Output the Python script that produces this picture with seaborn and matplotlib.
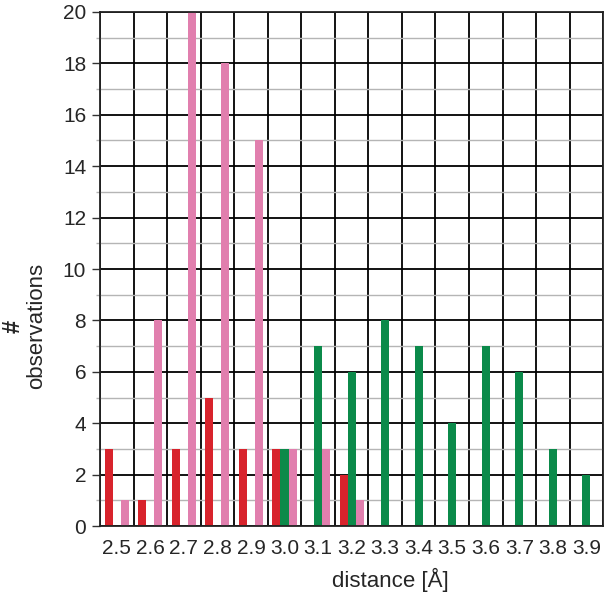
import pandas as pd
import seaborn as sns
import matplotlib.pyplot as plt
import numpy as np
from matplotlib.ticker import MultipleLocator, FixedLocator

categories = ['2.5', '2.6', '2.7', '2.8', '2.9', '3.0', '3.1', '3.2',
              '3.3', '3.4', '3.5', '3.6', '3.7', '3.8', '3.9']
red_counts = [3, 1, 3, 5, 3, 3, 0, 2, 0, 0, 0, 0, 0, 0, 0]
green_counts = [0, 0, 0, 0, 0, 3, 7, 6, 8, 7, 4, 7, 6, 3, 2]
pink_counts = [1, 8, 20, 18, 15, 3, 3, 1, 0, 0, 0, 0, 0, 0, 0]

series = ["red", "green", "pink"]
my_pal = {"red": "#d8232c", "green": "#0b8a4a", "pink": "#e17fae"}

df = pd.concat([
    pd.DataFrame({"distance": categories, "count": vals, "series": name})
    for name, vals in zip(series, [red_counts, green_counts, pink_counts])
])

sns.set_style("white")
plt.rcParams["font.family"] = ["Liberation Sans", "DejaVu Sans"]

f = plt.figure(figsize=(6.08, 5.96), dpi=100)
ax = f.add_axes([0.1645, 0.1174, 0.8275, 0.8625])

ax.set_axisbelow(True)
ax.yaxis.set_major_locator(MultipleLocator(2))
ax.yaxis.set_minor_locator(MultipleLocator(1))
ax.grid(which="major", axis="y", color="black", linewidth=1.3)
ax.grid(which="minor", axis="y", color="#b5b5b5", linewidth=1.0)

sns.barplot(df, x="distance", y="count", hue="series", hue_order=series,
            palette=my_pal, width=0.72, gap=0, saturation=1, legend=False,
            linewidth=0, ax=ax)

ax.set_ylim(0, 20)
ax.set_xlim(-0.5, len(categories) - 0.5)

ax.xaxis.set_minor_locator(FixedLocator(np.arange(-0.5, len(categories), 1)))
ax.grid(which="minor", axis="x", color="black", linewidth=1.3)

ax.tick_params(axis="x", which="major", length=0, labelsize=15, pad=9)
ax.tick_params(axis="x", which="minor", length=9, width=1.3, color="black")
ax.tick_params(axis="y", which="major", left=True, length=6, width=1, color="#333333", labelsize=15, pad=4)
ax.tick_params(axis="y", which="minor", left=True, length=3, width=1, color="#b5b5b5")

for s in ax.spines.values():
    s.set_color("#222222")
    s.set_linewidth(1.3)

ax.set_ylabel("")
ax.set_xlabel("distance [Å]", fontsize=16)
ax.xaxis.set_label_coords(0.577, -0.082)

f.text(0.022, 0.453, "#", rotation=90, fontsize=17, fontweight="bold", ha="center", va="center")
f.text(0.060, 0.453, "observations", rotation=90, fontsize=16, ha="center", va="center")

f.savefig("out.png", dpi=100)
